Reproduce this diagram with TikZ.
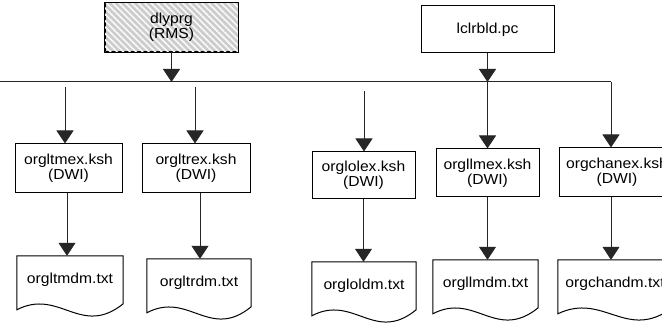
\documentclass[tikz,border=0pt]{standalone}
\usepackage{fontspec}
\setmainfont{Liberation Sans}[FakeStretch=1.08]
\usetikzlibrary{arrows.meta,patterns.meta,calc}
\begin{document}
\begin{tikzpicture}[x=1pt,y=-1pt,
  every node/.style={font=\fontsize{14.5}{13.5}\selectfont, align=center, inner sep=0pt},
  proc/.style={draw, line width=1pt, minimum width=#1},
  docnode/.style={minimum width=#1, minimum height=48pt},
  conn/.style={line width=1pt, draw=black!85},
  arr/.style={conn, -{Triangle[width=17pt,length=13pt]}},
]
\useasboundingbox (0,0) rectangle (662,323);
\clip (0,0) rectangle (662,323);
\fill[white] (0,0) rectangle (662,323);

% top nodes
\node[proc=133pt, minimum height=49pt, fill=black!20,
      postaction={pattern={Lines[angle=-45,distance=4.5pt,line width=1.6pt]}, pattern color=white!85!black!15}]
      (dly) at (171.5,27.5) {};
\draw[line width=1pt] (dly.north west) rectangle (dly.south east);
\node at (dly) {dlyprg\\(RMS)};
\node[proc=133pt, minimum height=47pt] (lcl) at (487.5,29.5) {lclrbld.pc};

% bus
\coordinate (busL) at (0,82);
\coordinate (busR) at (611,82);
\draw[conn] (busL) -- (busR);

% second row
\node[proc=107pt, minimum height=49pt] (b1) at (68.5,168.5) {orgltmex.ksh\\(DWI)};
\node[proc=108pt, minimum height=49pt] (b2) at (196,168.5) {orgltrex.ksh\\(DWI)};
\node[proc=103pt, minimum height=47pt] (b3) at (363.5,175.5) {orglolex.ksh\\(DWI)};
\node[proc=103pt, minimum height=48pt] (b4) at (487.5,173) {orgllmex.ksh\\(DWI)};
\node[proc=116pt, minimum height=49pt] (b5) at (617,172.5) {orgchanex.ksh\\(DWI)};

% documents
\node[docnode=106pt] (d1) at (70,280) {orgltmdm.txt};
\node[docnode=104pt] (d2) at (199,283) {orgltrdm.txt};
\node[docnode=104pt] (d3) at (364,286) {orgloldm.txt};
\node[docnode=105pt] (d4) at (485.5,284) {orgllmdm.txt};
\node[docnode=114pt] (d5) at (615,284) {orgchandm.txt};
\foreach \d in {d1,d2,d3,d4,d5}{
  \draw[line width=1pt] let \p1=(\d.north west), \p2=(\d.north east), \n1={\x2-\x1} in
    (\p1) -- (\x1,\y1-54pt)
    .. controls (\x1+0.4*\n1,\y1-32pt) and (\x1+0.6*\n1,\y1-82pt) .. (\x2,\y1-48pt)
    -- (\p2) -- cycle;
}

% arrows from top
\draw[arr] (dly.south) -- (dly.south |- busL);
\draw[arr] (lcl.south) -- (lcl.south |- busL);
\coordinate (s1) at (65,87);
\coordinate (s2) at (195,87);
\coordinate (s3) at (364,91);
\draw[arr] (s1) -- (s1 |- b1.north);
\draw[arr] (s2) -- (s2 |- b2.north);
\draw[arr] (s3) -- (s3 |- b3.north);
\draw[arr] (lcl.south |- busL) -- (lcl.south |- b4.north);
\draw[arr] (busR) -- (busR |- b5.north);

% arrows to documents
\draw[arr] ([xshift=-1.5pt]b1.south) -- ([xshift=-1.5pt]b1.south |- d1.north);
\draw[arr] ([xshift=4pt]b2.south) -- ([xshift=4pt]b2.south |- d2.north);
\draw[arr] (b3.south) -- (b3.south |- d3.north);
\draw[arr] (b4.south) -- (b4.south |- d4.north);
\draw[arr] ([xshift=-6pt]b5.south) -- ([xshift=-6pt]b5.south |- d5.north);
\end{tikzpicture}
\end{document}
